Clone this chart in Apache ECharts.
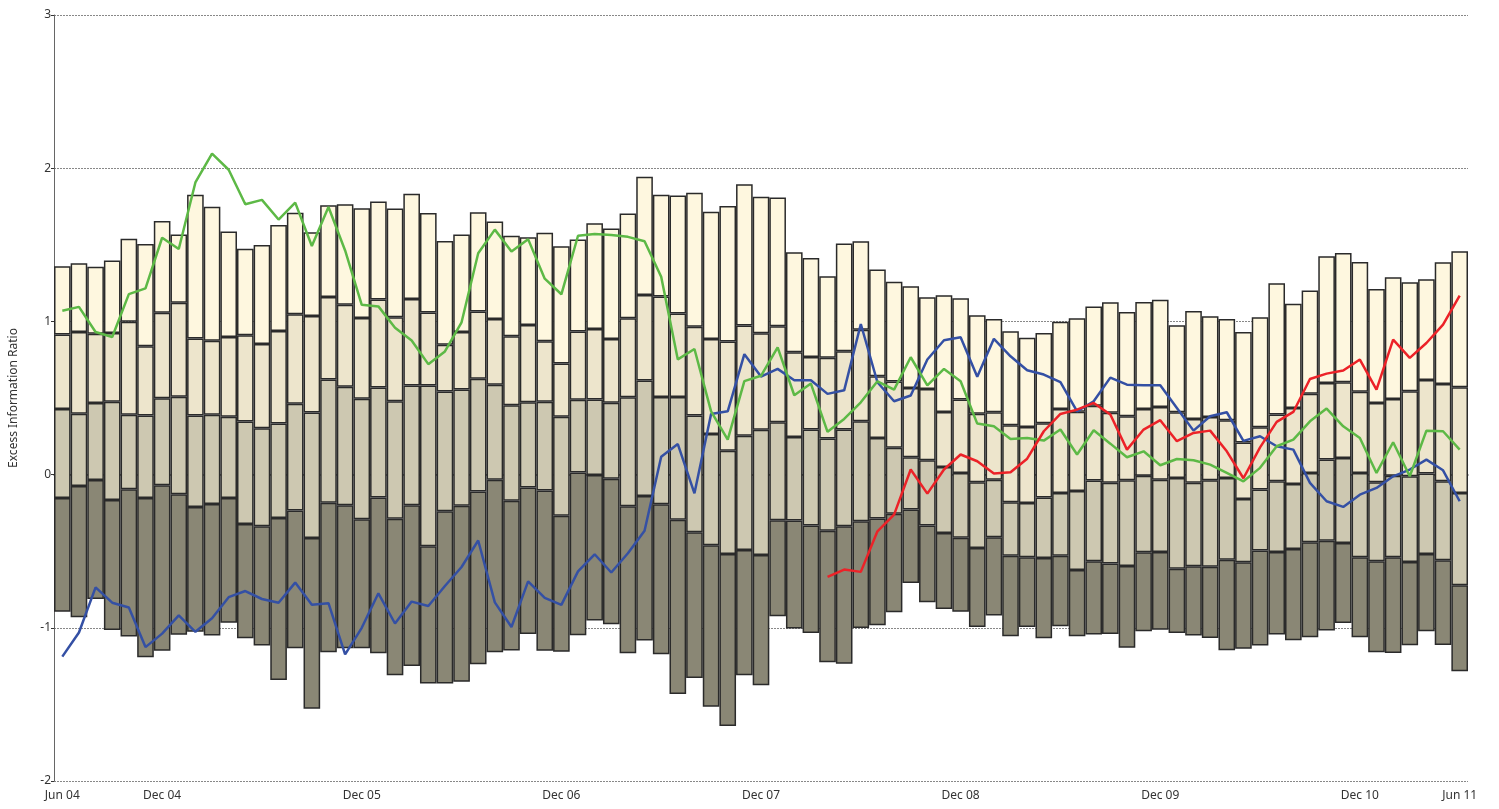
<!DOCTYPE html>
<html>
<head>
<meta charset="utf-8">
<script src="https://cdn.jsdelivr.net/npm/echarts@6/dist/echarts.min.js"></script>
<style>
  html, body { margin: 0; padding: 0; background: #fff; }
  #chart { width: 1499px; height: 809px; }
</style>
</head>
<body>
<div id="chart"></div>
<script>
// monthly points Jun 04 .. Jun 11
const monthNames = ['Jan', 'Feb', 'Mar', 'Apr', 'May', 'Jun', 'Jul', 'Aug', 'Sep', 'Oct', 'Nov', 'Dec'];
const months = [];
for (let k = 0; k < 85; k++) {
    const m = (5 + k) % 12;
    const yr = 4 + Math.floor((5 + k) / 12);
    months.push(monthNames[m] + ' ' + String(yr).padStart(2, '0'));
}

// bar boundaries (bottom of dark, dark/mid, mid/light, light/cream, top)
const low = [-0.895, -0.931, -0.812, -1.014, -1.057, -1.192, -1.15, -1.045, -1.026, -1.05, -0.967, -1.069, -1.116, -1.34, -1.133,
    -1.529, -1.159, -1.133, -1.133, -1.166, -1.309, -1.25, -1.364, -1.364, -1.352, -1.238, -1.159, -1.148, -1.041, -1.15,
    -1.157, -1.048, -0.953, -0.977, -1.166, -1.083, -1.173, -1.432, -1.328, -1.516, -1.641, -1.309, -1.375, -0.925, -1.005,
    -1.034, -1.225, -1.234, -1.001, -0.983, -0.899, -0.707, -0.833, -0.877, -0.896, -0.994, -0.92, -1.055, -0.994, -1.068,
    -0.99, -1.055, -1.044, -1.04, -1.131, -1.023, -1.012, -1.034, -1.051, -1.066, -1.147, -1.137, -1.116, -1.044, -1.081,
    -1.062, -1.018, -0.968, -1.062, -1.16, -1.164, -1.114, -1.023, -1.112, -1.284];
const q1 = [-0.152, -0.074, -0.036, -0.166, -0.095, -0.152, -0.069, -0.128, -0.211, -0.192, -0.152, -0.323, -0.337, -0.283, -0.234,
    -0.414, -0.184, -0.2, -0.292, -0.15, -0.288, -0.2, -0.468, -0.24, -0.203, -0.11, -0.034, -0.17, -0.085, -0.103,
    -0.269, 0.014, -0.003, -0.027, -0.207, -0.14, -0.193, -0.295, -0.376, -0.461, -0.518, -0.492, -0.524, -0.298, -0.3,
    -0.333, -0.366, -0.337, -0.305, -0.287, -0.255, -0.228, -0.333, -0.381, -0.413, -0.479, -0.409, -0.529, -0.539, -0.544,
    -0.529, -0.622, -0.566, -0.581, -0.596, -0.507, -0.505, -0.614, -0.598, -0.601, -0.555, -0.572, -0.496, -0.505, -0.485,
    -0.441, -0.431, -0.446, -0.539, -0.566, -0.539, -0.57, -0.518, -0.559, -0.722];
const q2 = [0.428, 0.397, 0.468, 0.475, 0.39, 0.385, 0.499, 0.508, 0.385, 0.39, 0.378, 0.347, 0.302, 0.333, 0.462,
    0.405, 0.621, 0.574, 0.495, 0.569, 0.479, 0.581, 0.581, 0.543, 0.555, 0.626, 0.586, 0.452, 0.472, 0.476,
    0.377, 0.488, 0.491, 0.469, 0.505, 0.614, 0.507, 0.507, 0.386, 0.265, 0.156, 0.253, 0.293, 0.342, 0.246,
    0.294, 0.235, 0.294, 0.348, 0.239, 0.176, 0.113, 0.094, 0.05, 0.011, -0.05, -0.033, -0.181, -0.185, -0.15,
    -0.12, -0.107, -0.039, -0.054, -0.037, -0.007, -0.033, -0.022, -0.054, -0.037, -0.022, -0.159, -0.098, -0.044, -0.061,
    0.011, 0.098, 0.109, 0.011, -0.05, -0.007, -0.011, 0.007, -0.044, -0.12];
const q3 = [0.914, 0.931, 0.92, 0.924, 0.998, 0.838, 1.057, 1.121, 0.888, 0.874, 0.898, 0.91, 0.853, 0.938, 1.046,
    1.036, 1.16, 1.108, 1.022, 1.143, 1.027, 1.146, 1.058, 0.847, 0.93, 1.065, 1.015, 0.903, 0.977, 0.87,
    0.726, 0.934, 0.951, 0.885, 1.02, 1.172, 1.162, 1.051, 0.965, 0.885, 0.868, 0.973, 0.922, 0.968, 0.799,
    0.768, 0.762, 0.805, 0.946, 0.642, 0.607, 0.566, 0.559, 0.409, 0.49, 0.398, 0.407, 0.322, 0.311, 0.335,
    0.429, 0.411, 0.45, 0.403, 0.381, 0.429, 0.442, 0.407, 0.363, 0.376, 0.355, 0.209, 0.309, 0.392, 0.435,
    0.527, 0.598, 0.603, 0.54, 0.468, 0.494, 0.544, 0.618, 0.592, 0.57];
const high = [1.36, 1.38, 1.356, 1.397, 1.539, 1.506, 1.656, 1.568, 1.827, 1.748, 1.587, 1.475, 1.499, 1.629, 1.71,
    1.582, 1.758, 1.765, 1.739, 1.782, 1.737, 1.834, 1.708, 1.525, 1.568, 1.713, 1.652, 1.559, 1.549, 1.578,
    1.49, 1.535, 1.64, 1.607, 1.704, 1.944, 1.827, 1.822, 1.839, 1.716, 1.754, 1.896, 1.813, 1.808, 1.451,
    1.414, 1.295, 1.508, 1.523, 1.338, 1.258, 1.229, 1.158, 1.171, 1.151, 1.04, 1.016, 0.936, 0.894, 0.925,
    0.997, 1.02, 1.097, 1.125, 1.062, 1.127, 1.142, 0.975, 1.068, 1.034, 1.016, 0.931, 1.027, 1.249, 1.116,
    1.201, 1.425, 1.447, 1.388, 1.212, 1.288, 1.255, 1.275, 1.386, 1.458];

// lines
const blue = [-1.188, -1.031, -0.736, -0.836, -0.867, -1.126, -1.038, -0.919, -1.026, -0.938, -0.8, -0.76, -0.812, -0.836, -0.705,
    -0.85, -0.839, -1.173, -1.0, -0.775, -0.972, -0.829, -0.858, -0.727, -0.603, -0.43, -0.834, -0.995, -0.697, -0.805,
    -0.85, -0.632, -0.52, -0.639, -0.513, -0.366, 0.116, 0.199, -0.122, 0.396, 0.413, 0.786, 0.64, 0.69, 0.616,
    0.616, 0.527, 0.55, 0.983, 0.603, 0.479, 0.516, 0.751, 0.877, 0.896, 0.638, 0.886, 0.772, 0.681, 0.653,
    0.603, 0.413, 0.479, 0.633, 0.587, 0.583, 0.583, 0.435, 0.287, 0.381, 0.407, 0.22, 0.25, 0.185, 0.163,
    -0.054, -0.174, -0.211, -0.131, -0.087, -0.011, 0.033, 0.098, 0.028, -0.174];
const green = [1.069, 1.095, 0.931, 0.898, 1.178, 1.216, 1.546, 1.473, 1.907, 2.095, 1.99, 1.765, 1.793, 1.665, 1.775,
    1.492, 1.747, 1.463, 1.108, 1.098, 0.958, 0.875, 0.721, 0.804, 0.994, 1.445, 1.599, 1.457, 1.537, 1.279,
    1.177, 1.559, 1.571, 1.564, 1.552, 1.523, 1.291, 0.752, 0.82, 0.413, 0.228, 0.61, 0.645, 0.831, 0.518,
    0.594, 0.279, 0.363, 0.472, 0.609, 0.555, 0.766, 0.583, 0.69, 0.609, 0.333, 0.315, 0.232, 0.239, 0.222,
    0.294, 0.131, 0.289, 0.202, 0.113, 0.152, 0.061, 0.102, 0.094, 0.065, 0.011, -0.044, 0.044, 0.185, 0.228,
    0.348, 0.431, 0.315, 0.239, 0.011, 0.211, -0.011, 0.287, 0.283, 0.163];
const red = [null, null, null, null, null, null, null, null, null, null, null, null, null, null, null,
    null, null, null, null, null, null, null, null, null, null, null, null, null, null, null,
    null, null, null, null, null, null, null, null, null, null, null, null, null, null, null,
    null, -0.668, -0.62, -0.635, -0.37, -0.261, 0.033, -0.124, 0.033, 0.131, 0.087, 0.007, 0.015, 0.104, 0.283,
    0.396, 0.424, 0.468, 0.392, 0.163, 0.294, 0.355, 0.218, 0.272, 0.287, 0.152, -0.024, 0.178, 0.344, 0.409,
    0.624, 0.659, 0.679, 0.751, 0.555, 0.881, 0.762, 0.859, 0.979, 1.168];

const segColors = ['#8a8775', '#cdc8b1', '#ede5cc', '#fef7df'];
const labelFont = "'Noto Sans', 'Open Sans', sans-serif";

const showLabel = (idx, val) => idx === 0 || idx === months.length - 1 || val.indexOf('Dec') === 0;

const diff = (a, b) => a.map((v, i) => +(v - b[i]).toFixed(3));
const segs = [diff(q1, low), diff(q2, q1), diff(q3, q2), diff(high, q3)];

const barSeries = [{
    type: 'bar',
    stack: 'box',
    stackStrategy: 'all',
    data: low,
    itemStyle: { color: 'transparent', borderWidth: 0 },
    barCategoryGap: '0%',
    silent: true
}].concat(segs.map((d, k) => ({
    type: 'bar',
    stack: 'box',
    stackStrategy: 'all',
    data: d,
    barCategoryGap: '0%',
    itemStyle: { color: segColors[k], borderColor: '#2a2a2a', borderWidth: 1.5 }
})));

const lineSeries = [
    { data: blue, color: '#3450a4' },
    { data: green, color: '#5db946' },
    { data: red, color: '#ec2228' }
].map(s => ({
    type: 'line',
    data: s.data,
    symbol: 'none',
    connectNulls: false,
    lineStyle: { color: s.color, width: 2.5 },
    z: 5
}));

const chart = echarts.init(document.getElementById('chart'), null, { renderer: 'canvas' });
chart.setOption({
    animation: false,
    backgroundColor: '#fff',
    grid: { left: 50, right: 31, top: 15, bottom: 28, containLabel: false },
    xAxis: {
        type: 'category',
        data: months,
        boundaryGap: true,
        axisLine: { lineStyle: { color: '#555', width: 1.5 } },
        axisTick: { interval: showLabel, alignWithLabel: true, length: 5, lineStyle: { color: '#333' } },
        axisLabel: { interval: showLabel, color: '#333', fontSize: 12, fontFamily: labelFont, margin: 9 },
        splitLine: { show: false }
    },
    yAxis: {
        type: 'value',
        min: -2,
        max: 3,
        interval: 1,
        name: 'Excess Information Ratio',
        nameLocation: 'middle',
        nameGap: 34,
        nameTextStyle: { color: '#333', fontSize: 12, fontFamily: labelFont },
        axisLine: { show: true, lineStyle: { color: '#666', width: 1 } },
        axisTick: { show: true, length: 3, lineStyle: { color: '#333' } },
        axisLabel: { color: '#333', fontSize: 12, fontFamily: labelFont, margin: 3 },
        splitLine: { show: true, lineStyle: { color: '#888', type: [2, 1], width: 1 } }
    },
    series: barSeries.concat(lineSeries)
});
</script>
</body>
</html>
